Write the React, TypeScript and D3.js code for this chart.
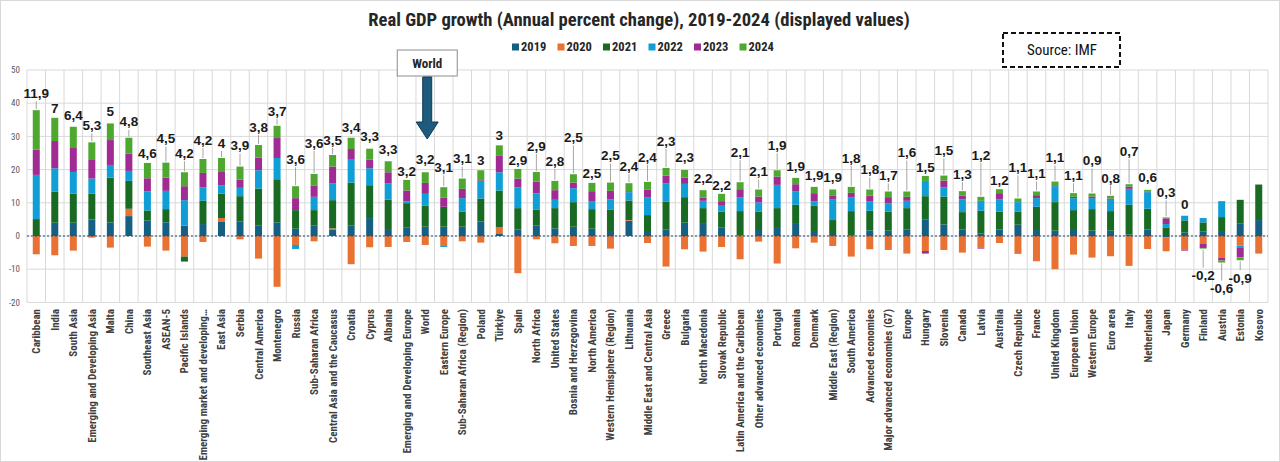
import React from "react";
import * as d3 from "d3";

// categories, left to right
const categories = [
  "Caribbean", "India", "South Asia", "Emerging and Developing Asia", "Malta", "China",
  "Southeast Asia", "ASEAN-5", "Pacific Islands", "Emerging market and developing…",
  "East Asia", "Serbia", "Central America", "Montenegro", "Russia", "Sub-Saharan Africa",
  "Central Asia and the Caucasus", "Croatia", "Cyprus", "Albania", "Emerging and Developing Europe",
  "World", "Eastern Europe", "Sub-Saharan Africa (Region)", "Poland", "Türkiye", "Spain",
  "North Africa", "United States", "Bosnia and Herzegovina", "North America",
  "Western Hemisphere (Region)", "Lithuania", "Middle East and Central Asia", "Greece", "Bulgaria",
  "North Macedonia", "Slovak Republic", "Latin America and the Caribbean", "Other advanced economies",
  "Portugal", "Romania", "Denmark", "Middle East (Region)", "South America", "Advanced economies",
  "Major advanced economies (G7)", "Europe", "Hungary", "Slovenia", "Canada", "Latvia", "Australia",
  "Czech Republic", "France", "United Kingdom", "European Union", "Western Europe", "Euro area",
  "Italy", "Netherlands", "Japan", "Germany", "Finland", "Austria", "Estonia", "Kosovo",
];

const years = ["2019", "2020", "2021", "2022", "2023", "2024"];

const g2019 = [
  0.3, 4.0, 4.0, 5.0, 4.1, 6.0, 4.7, 4.1, 3.1, 3.6,
  4.4, 4.3, 3.1, 4.1, 2.2, 3.1, 1.8, 3.1, 5.4, 2.1,
  2.5, 2.8, 2.8, 2.8, 4.4, 0.8, 2.0, 3.1, 2.3, 2.8,
  2.2, 1.5, 4.6, 1.5, 1.9, 4.0, 3.9, 2.5, 0.2, 1.8,
  2.7, 3.9, 1.5, 0.6, 0.2, 1.7, 1.6, 1.9, 4.9, 3.5,
  1.9, 0.7, 2.0, 3.4, 1.8, 1.6, 1.8, 1.6, 1.6, 0.5,
  2.0, -0.4, 1.0, 1.3, 1.5, 3.7, 4.8,
];
const g2020 = [
  -5.5, -5.8, -4.4, -0.5, -3.5, 2.2, -3.2, -4.4, -6.2, -1.8,
  1.0, -1.0, -6.8, -15.3, -2.7, -1.6, 0.5, -8.5, -3.4, -3.3,
  -1.8, -2.7, -3.0, -1.6, -2.0, 1.9, -11.2, -1.0, -2.2, -3.0,
  -3.0, -3.8, 0.2, -2.1, -9.2, -4.0, -4.7, -3.3, -7.0, -1.7,
  -8.3, -3.7, -2.0, -3.0, -6.2, -4.0, -4.2, -5.3, -4.5, -4.2,
  -5.0, -3.5, -2.1, -5.3, -7.6, -10.0, -5.6, -6.5, -6.1, -9.0,
  -3.9, -4.2, -4.1, -2.4, -6.6, -2.9, -5.3,
];
const g2021 = [
  4.8, 9.4, 8.8, 7.8, 13.5, 8.4, 3.0, 4.0, -1.5, 7.0,
  7.4, 7.7, 11.2, 13.0, 5.6, 4.7, 8.5, 13.0, 9.9, 8.9,
  7.4, 6.3, 6.0, 4.5, 6.9, 11.0, 6.4, 4.8, 6.1, 7.4,
  5.9, 6.5, 5.9, 4.8, 8.4, 7.7, 4.5, 4.8, 7.3, 5.6,
  5.7, 5.5, 7.7, 4.2, 7.3, 5.9, 5.7, 6.5, 7.1, 8.4,
  5.3, 6.9, 5.3, 3.9, 7.0, 8.6, 6.0, 6.5, 5.9, 8.9,
  6.2, 2.6, 3.7, 2.8, 4.2, 7.2, 10.7,
];
const g2022 = [
  13.3, 7.0, 6.5, 4.5, 3.8, 3.0, 5.7, 5.5, 7.7, 4.0,
  2.4, 2.5, 5.5, 6.4, -1.2, 4.0, 5.1, 7.1, 5.1, 4.8,
  0.5, 3.6, -0.3, 4.1, 5.3, 5.5, 6.2, 4.9, 2.5, 4.2,
  2.4, 3.0, 2.5, 5.4, 5.6, 4.0, 2.2, 1.8, 4.2, 2.7,
  7.0, 4.1, 1.2, 6.3, 4.2, 2.9, 2.5, 2.2, 4.6, 2.7,
  3.8, 3.0, 3.7, 2.9, 2.6, 4.8, 3.6, 3.3, 3.4, 4.8,
  5.0, 1.0, 1.4, 1.3, 4.8, -0.5, null,
];
const g2023 = [
  7.6, 8.2, 7.2, 5.6, 7.5, 5.2, 4.0, 4.0, 4.2, 4.4,
  4.3, 2.5, 3.8, 6.0, 3.6, 3.3, 5.0, 3.0, 2.6, 3.4,
  3.3, 3.3, 2.8, 2.8, 0.2, 5.1, 2.7, 3.6, 2.9, 1.7,
  3.0, 2.6, 0.3, 2.2, 2.3, 1.9, 1.0, 1.4, 2.4, 1.8,
  2.5, 2.1, 2.5, 1.0, 1.3, 1.7, 1.9, 1.2, -0.8, 2.1,
  1.2, -0.3, 1.9, -0.1, 0.9, 0.3, 0.4, 0.5, 0.4, 0.7,
  0.1, 1.7, -0.3, -1.2, -0.8, -3.0, null,
];
const g2024 = [
  11.9, 7, 6.4, 5.3, 5, 4.8, 4.6, 4.5, 4.2, 4.2,
  4, 3.9, 3.8, 3.7, 3.6, 3.6, 3.5, 3.4, 3.3, 3.3,
  3.2, 3.2, 3.1, 3.1, 3, 3, 2.9, 2.9, 2.8, 2.5,
  2.5, 2.5, 2.4, 2.4, 2.3, 2.3, 2.2, 2.2, 2.1, 2.1,
  1.9, 1.9, 1.9, 1.9, 1.8, 1.8, 1.7, 1.6, 1.5, 1.5,
  1.3, 1.2, 1.2, 1.1, 1.1, 1.1, 1.1, 0.9, 0.8, 0.7,
  0.6, 0.3, 0, -0.2, -0.6, -0.9, null,
];

const yTicks = [-20, -10, 0, 10, 20, 30, 40, 50];

// how far (px) each 2024 label sits from its bar end, as placed by hand in the original
const labelLift = [
  17, 10, 11, 17, 12, 16, 10, 24, 19, 19,
  15, 21, 18, 15, 27, 31, 15, 10, 12, 12,
  9, 13, 20, 20, 10, 10, 9, 26, 20, 37,
  10, 27, 17, 25, 27, 13, 12, 9, 30, 18,
  25, 12, 12, 12, 29, 20, 16, 39, 9, 25,
  17, 42, 9, 31, 18, 24, 18, 33, 18, 33,
  13, 25, 11, 27, 26, 18, 0,
];

const colors = ["#156082", "#E97132", "#196B24", "#0F9ED5", "#A02B93", "#4EA72E"];
const FONT = "'Liberation Sans Narrow', 'Roboto Condensed', 'DejaVu Sans Condensed', sans-serif";
const LABEL_FONT = "'Liberation Sans', Arial, sans-serif";

const W = 1280;
const H = 462;

export default function App() {
  const series = [g2019, g2020, g2021, g2022, g2023, g2024];
  const rows = categories.map((c, i) => {
    const r: Record<string, any> = { cat: c };
    years.forEach((yr, j) => (r[yr] = series[j][i] ?? 0));
    return r;
  });
  const stacked = d3.stack<any>().keys(years).offset(d3.stackOffsetDiverging)(rows);

  const x = d3.scaleBand().domain(categories).range([27, 1268]).padding(0);
  const y = d3.scaleLinear().domain([-20, 50]).range([302.4, 70]);
  const bw = x.bandwidth();
  const barW = 7;
  const cx = (c: string) => (x(c) as number) + bw / 2;

  const fmt = (v: number) => String(v).replace(".", ",");

  const worldX = cx("World") + 2;

  return (
    <svg width={W} height={H} style={{ display: "block", fontFamily: FONT }}>
      <style>{`body{margin:0}`}</style>
      <rect x={0.5} y={0.5} width={W - 1} height={H - 1} fill="#fff" stroke="#d9d9d9" />

      {/* title */}
      <text x={639} y={25.5} textAnchor="middle" fontSize={18.6} fontWeight="bold" fill="#262626">
        Real GDP growth (Annual percent change), 2019-2024 (displayed values)
      </text>

      {/* legend */}
      {years.map((yr, j) => (
        <g key={yr} transform={`translate(${512 + j * 45.5},47)`}>
          <rect x={0} y={-3.5} width={7} height={7} fill={colors[j]} />
          <text x={9} y={0} dy="0.35em" fontSize={12.5} fontWeight="bold" fill="#262626">
            {yr}
          </text>
        </g>
      ))}

      {/* grid */}
      {yTicks.map((t) => (
        <g key={t}>
          <line x1={27} x2={1268} y1={y(t)} y2={y(t)} stroke="#d9d9d9" />
          <text x={20} y={y(t)} dy="0.35em" textAnchor="end" fontSize={9} fill="#595959">
            {t}
          </text>
        </g>
      ))}
      {d3.range(categories.length + 1).map((i) => (
        <line key={i} x1={27 + i * bw} x2={27 + i * bw} y1={y(50)} y2={y(-20)} stroke="#d9d9d9" />
      ))}

      {/* bars */}
      {stacked.map((s, j) =>
        s.map((d, i) =>
          d[0] === d[1] ? null : (
            <rect
              key={`${j}-${i}`}
              x={cx(categories[i]) - barW / 2}
              y={y(d[1])}
              width={barW}
              height={y(d[0]) - y(d[1])}
              fill={colors[j]}
            />
          )
        )
      )}

      {/* zero line */}
      <line x1={27} x2={1268} y1={y(0)} y2={y(0)} stroke="#1f4e79" strokeDasharray="2,2" />

      {/* 2024 labels */}
      {categories.map((c, i) => {
        const v = g2024[i];
        if (v == null) return null;
        const top = d3.max(stacked, (s) => s[i][1]) as number;
        const bot = d3.min(stacked, (s) => s[i][0]) as number;
        const lift = labelLift[i];
        const px = cx(c);
        const up = v >= 0;
        const ly = up ? y(top) - lift : y(bot) + lift;
        return (
          <g key={c}>
            {lift > 14 &&
              (up ? (
                <line x1={px} x2={px} y1={ly + 8} y2={y(top) - 1} stroke="#a6a6a6" />
              ) : (
                <line x1={px} x2={px} y1={y(bot) + 1} y2={ly - 8} stroke="#a6a6a6" />
              ))}
            <text
              x={px}
              y={ly}
              dy="0.35em"
              textAnchor="middle"
              fontFamily={LABEL_FONT}
              fontSize={13.5}
              fontWeight="bold"
              fill="#1a1a1a"
            >
              {fmt(v)}
            </text>
          </g>
        );
      })}

      {/* category labels */}
      {categories.map((c) => (
        <text
          key={c}
          transform={`translate(${cx(c) + 4},309) rotate(-90)`}
          textAnchor="end"
          fontSize={11}
          fontWeight="bold"
          fill="#404040"
        >
          {c}
        </text>
      ))}

      {/* World callout */}
      <rect x={worldX - 30} y={50} width={60} height={26} fill="#fff" stroke="#8c8c8c" />
      <text x={worldX} y={63} dy="0.35em" textAnchor="middle" fontSize={13} fontWeight="bold" fill="#262626">
        World
      </text>
      <path
        d={`M${worldX - 4.5},77 L${worldX + 4.5},77 L${worldX + 4.5},122 L${worldX + 11},122 L${worldX},139 L${worldX - 11},122 L${worldX - 4.5},122 Z`}
        fill="#1d5a7c"
        stroke="#0f3b55"
      />

      {/* source box */}
      <rect x={1003} y={33} width={117} height={34} fill="#fff" stroke="#111" strokeWidth={2} strokeDasharray="5,3" />
      <text x={1062} y={50} dy="0.35em" textAnchor="middle" fontSize={15} fill="#111">
        Source: IMF
      </text>
    </svg>
  );
}
